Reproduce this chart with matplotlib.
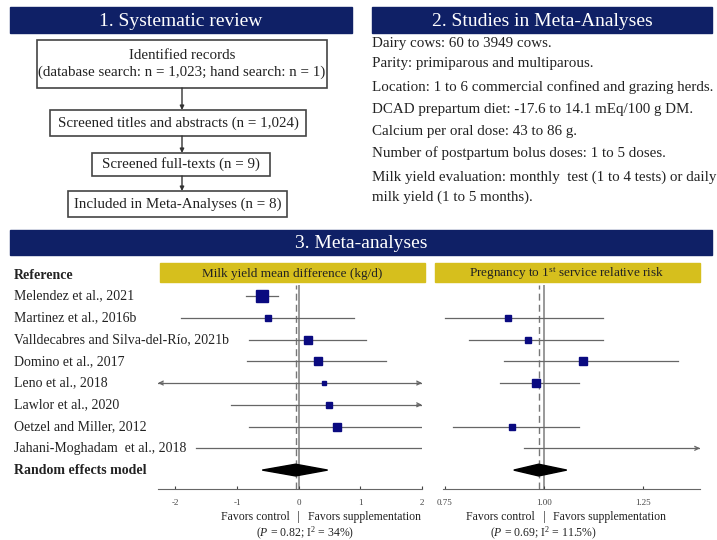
import numpy as np
import matplotlib
matplotlib.use("Agg")
import matplotlib.pyplot as plt
from matplotlib.patches import Rectangle, Polygon
from matplotlib import transforms

plt.rcParams["font.family"] = ["Liberation Serif", "DejaVu Serif"]
plt.rcParams["mathtext.fontset"] = "custom"
plt.rcParams["mathtext.rm"] = "Liberation Serif"
plt.rcParams["mathtext.it"] = "Liberation Serif:italic"

NAVY = "#0f2066"
YELLOW = "#d6bf1d"
SQ = "#0a0a80"

# ---- data ----
flow_boxes = [
    "Identified records\n(database search: n = 1,023; hand search: n = 1)",
    "Screened titles and abstracts (n = 1,024)",
    "Screened full-texts (n = 9)",
    "Included in Meta-Analyses (n = 8)",
]
study_notes = [
    "Dairy cows: 60 to 3949 cows.",
    "Parity: primiparous and multiparous.",
    "Location: 1 to 6 commercial confined and grazing herds.",
    "DCAD prepartum diet: -17.6 to 14.1 mEq/100 g DM.",
    "Calcium per oral dose: 43 to 86 g.",
    "Number of postpartum bolus doses: 1 to 5 doses.",
    "Milk yield evaluation: monthly  test (1 to 4 tests) or daily",
    "milk yield (1 to 5 months).",
]
studies = [
    "Melendez et al., 2021",
    "Martinez et al., 2016b",
    "Valldecabres and Silva-del-Río, 2021b",
    "Domino et al., 2017",
    "Leno et al., 2018",
    "Lawlor et al., 2020",
    "Oetzel and Miller, 2012",
    "Jahani-Moghadam  et al., 2018",
]
# milk yield mean difference (kg/d)
md_est = [-0.60, -0.50, 0.15, 0.31, 0.41, 0.50, 0.62, np.nan]
md_lo = [-0.86, -1.90, -0.80, -0.83, -3.0, -1.10, -0.80, -1.67]
md_hi = [-0.33, 0.89, 1.09, 1.41, 3.0, 3.0, 2.00, 2.00]
md_w = [40, 10, 17, 13, 3, 10, 13, 0]
md_pooled = (-0.05, -0.59, 0.47)
md_ticks = [-2, -1, 0, 1, 2]

# pregnancy to 1st service relative risk
rr_est = [np.nan, 0.91, 0.96, 1.10, 0.98, np.nan, 0.92, np.nan]
rr_lo = [np.nan, 0.75, 0.81, 0.90, 0.89, np.nan, 0.77, 0.95]
rr_hi = [np.nan, 1.15, 1.15, 1.34, 1.09, np.nan, 1.09, 2.00]
rr_w = [0, 7, 7, 13, 13, 0, 10, 0]
rr_pooled = (0.987, 0.924, 1.058)
rr_ticks = [0.75, 1.00, 1.25]

# ---- figure ----
fig = plt.figure(figsize=(7.17, 5.40), dpi=100)
ax0 = fig.add_axes([0, 0, 1, 1])
ax0.set_xlim(0, 717)
ax0.set_ylim(540, 0)
ax0.axis("off")

# section headers
for (x, y, w, h, txt) in [(10, 7, 342, 26, "1. Systematic review"),
                          (372, 7, 340, 26, "2. Studies in Meta-Analyses"),
                          (10, 230, 702, 25, "3. Meta-analyses")]:
    ax0.add_patch(Rectangle((x, y), w, h, color=NAVY))
    ax0.text(x + w / 2, y + h / 2 + 1, txt, color="white", fontsize=14,
             ha="center", va="center")

# flow chart
boxes = [(37, 40, 290, 48), (50, 110, 256, 26), (92, 153, 178, 23), (68, 191, 219, 26)]
for (x, y, w, h), txt in zip(boxes, flow_boxes):
    ax0.add_patch(Rectangle((x, y), w, h, fc="white", ec="#444444", lw=1.2))
    ax0.text(x + w / 2, y + h / 2, txt, fontsize=10.8, ha="center", va="center",
             linespacing=1.35, color="#222222")
for i in range(3):
    x, y, w, h = boxes[i]
    ax0.annotate("", xy=(182, boxes[i + 1][1]), xytext=(182, y + h),
                 arrowprops=dict(arrowstyle="-|>", color="#333333", lw=1,
                                 mutation_scale=6, shrinkA=0, shrinkB=0))

# study notes
note_y = [43, 64, 87, 109, 131, 153, 177, 197]
for y, txt in zip(note_y, study_notes):
    ax0.text(372, y, txt, fontsize=10.8, va="center", color="#222222")

# yellow sub-headers
ax0.add_patch(Rectangle((160, 263), 265, 19, color=YELLOW))
ax0.text(292, 277, "Milk yield mean difference (kg/d)", fontsize=9.5,
         ha="center", va="baseline", color="#222222")
ax0.add_patch(Rectangle((435, 263), 265, 19, color=YELLOW))
ax0.text(567, 277, r"Pregnancy to 1$^{\rm st}$ service relative risk", fontsize=9.5,
         ha="center", va="baseline", color="#222222")


def forest(ax, est, lo, hi, w, pooled, ticks, xlim, ref):
    n = len(est)
    ax.set_xlim(*xlim)
    ax.set_ylim(n + 0.87, -0.506)
    ax.patch.set_alpha(0)
    for s in ["top", "left", "right"]:
        ax.spines[s].set_visible(False)
    ax.spines["bottom"].set_color("#666666")
    ax.set_yticks([])
    ax.set_xticks(ticks)
    ax.set_xticklabels([("%g" % t) if ref == 0 else ("%.2f" % t) for t in ticks])
    ax.tick_params(axis="x", labelsize=6.5, length=2.5, direction="in",
                   pad=7, colors="#444444")
    ax.axvline(ref, color="#999999", lw=1.4, zorder=1)
    ax.axvline(pooled[0], color="#777777", lw=1, ls=(0, (5, 3)), zorder=1)
    for i in range(n):
        if np.isnan(lo[i]):
            continue
        a, b = max(lo[i], xlim[0]), min(hi[i], xlim[1])
        ax.plot([a, b], [i, i], color="#666666", lw=0.9, zorder=2)
        if lo[i] < xlim[0]:
            ax.annotate("", xy=(xlim[0], i), xytext=(xlim[0] + 0.02 * (xlim[1] - xlim[0]), i),
                        arrowprops=dict(arrowstyle="->", color="#666666", lw=0.9,
                                        mutation_scale=7, shrinkA=0, shrinkB=0),
                        annotation_clip=False)
        if hi[i] > xlim[1]:
            ax.annotate("", xy=(xlim[1], i), xytext=(xlim[1] - 0.02 * (xlim[1] - xlim[0]), i),
                        arrowprops=dict(arrowstyle="->", color="#666666", lw=0.9,
                                        mutation_scale=7, shrinkA=0, shrinkB=0),
                        annotation_clip=False)
        if not np.isnan(est[i]) and w[i] > 0:
            ax.plot(est[i], i, marker="s", color=SQ, ms=1.45 * np.sqrt(w[i]),
                    mec=SQ, zorder=3)
    e, l, h = pooled
    ax.add_patch(Polygon([(l, n), (e, n - 0.27), (h, n), (e, n + 0.27)],
                         closed=True, color="black", zorder=3))


axL = fig.add_axes([158 / 717, 1 - 489 / 540, (422 - 158) / 717, (489 - 285) / 540])
forest(axL, md_est, md_lo, md_hi, md_w, md_pooled, md_ticks, (-2.28, 2.0), 0)
axR = fig.add_axes([443 / 717, 1 - 489 / 540, (700 - 443) / 717, (489 - 285) / 540])
forest(axR, rr_est, rr_lo, rr_hi, rr_w, rr_pooled, rr_ticks, (0.745, 1.395), 1.0)

# study labels
lab_tr = transforms.blended_transform_factory(ax0.transData, axL.transData)
ax0.text(14, -0.95, "Reference", transform=lab_tr, fontsize=10, fontweight="bold",
         va="center", color="#222222")
for i, s in enumerate(studies):
    ax0.text(14, i, s, transform=lab_tr, fontsize=10, va="center", color="#222222")
ax0.text(14, len(studies), "Random effects model", transform=lab_tr, fontsize=10,
         fontweight="bold", va="center", color="#222222")

# favors / stats text
for ax, ref, ptxt, pc in [(axL, 0, r"($P$ = 0.82; I$^{2}$ = 34%)", 0.1),
                          (axR, 1.0, r"($P$ = 0.69; I$^{2}$ = 11.5%)", 1.0)]:
    tr = transforms.blended_transform_factory(ax.transData, ax0.transData)
    ax0.text(ref, 517, "|", transform=tr, fontsize=9, ha="center", va="center", color="#222222")
    ax0.text(ref, 517, "Favors control   ", transform=tr, fontsize=8.5, ha="right",
             va="center", color="#222222")
    ax0.text(ref, 517, "   Favors supplementation", transform=tr, fontsize=8.5, ha="left",
             va="center", color="#222222")
    ax0.text(pc, 533, ptxt, transform=tr, fontsize=8.5, ha="center", va="center",
             color="#222222")

fig.savefig("out.png", dpi=100)
